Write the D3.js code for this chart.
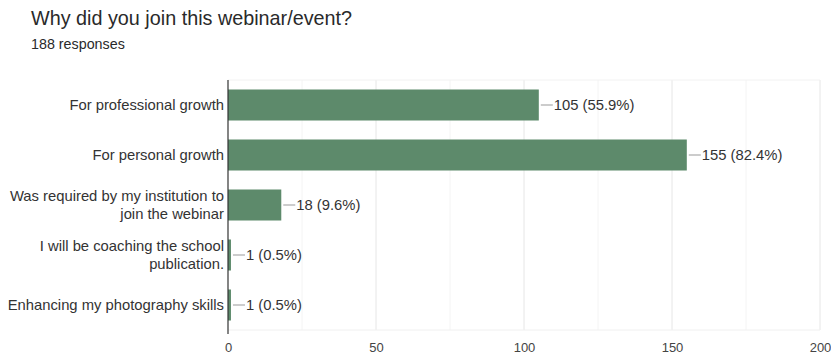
<!DOCTYPE html>
<html>
<head>
<meta charset="utf-8">
<script src="https://cdn.jsdelivr.net/npm/d3@7"></script>
<style>
  body { margin: 0; background: #fff; }
  svg text { font-family: "Liberation Sans", Arial, sans-serif; }
</style>
</head>
<body>
<svg width="831" height="358"></svg>
<script>
const TITLE = "Why did you join this webinar/event?";
const SUBTITLE = "188 responses";
const CATEGORIES = [
  ["For professional growth"],
  ["For personal growth"],
  ["Was required by my institution to", "join the webinar"],
  ["I will be coaching the school", "publication."],
  ["Enhancing my photography skills"]
];
const VALUES = [105, 155, 18, 1, 1];
const PERCENTS = ["55.9%", "82.4%", "9.6%", "0.5%", "0.5%"];
const X_TICKS = [0, 50, 100, 150, 200];
const X_MINOR = [25, 75, 125, 175];

const svg = d3.select("svg");
const margin = {left: 228, right: 11, top: 80, bottom: 28};
const W = 831, H = 358;
const FS = 14.8;

svg.append("text")
  .attr("x", 31).attr("y", 25)
  .attr("font-size", 19.8)
  .attr("fill", "#2a2a2a")
  .text(TITLE);

svg.append("text")
  .attr("x", 31).attr("y", 49)
  .attr("font-size", 14.3)
  .attr("fill", "#2a2a2a")
  .text(SUBTITLE);

const xScale = d3.scaleLinear().domain([0, 200]).range([margin.left, W - margin.right]);
const yScale = d3.scaleBand()
  .domain(CATEGORIES.map((d, i) => i))
  .range([margin.top, H - margin.bottom])
  .paddingInner(0.38).paddingOuter(0.19);

// minor gridlines
svg.append("g")
  .selectAll("line")
  .data(X_MINOR)
  .enter()
  .append("line")
  .attr("x1", d => xScale(d)).attr("x2", d => xScale(d))
  .attr("y1", margin.top).attr("y2", H - margin.bottom)
  .attr("stroke", "#f4f4f4");

// major gridlines
svg.append("g")
  .selectAll("line")
  .data(X_TICKS.slice(1))
  .enter()
  .append("line")
  .attr("x1", d => xScale(d)).attr("x2", d => xScale(d))
  .attr("y1", margin.top).attr("y2", H - margin.bottom)
  .attr("stroke", "#e6e6e6");

// frame top/bottom faint
svg.append("line")
  .attr("x1", margin.left).attr("x2", W - margin.right)
  .attr("y1", margin.top).attr("y2", margin.top)
  .attr("stroke", "#f2f2f2");
svg.append("line")
  .attr("x1", margin.left).attr("x2", W - margin.right)
  .attr("y1", H - margin.bottom).attr("y2", H - margin.bottom)
  .attr("stroke", "#f0f0f0");

// x axis labels
const xAxis = svg.append("g")
  .attr("transform", `translate(0,${H - margin.bottom})`)
  .call(d3.axisBottom(xScale).tickValues(X_TICKS).tickSize(0).tickPadding(13));
xAxis.select(".domain").remove();
xAxis.selectAll("text")
  .attr("font-size", 13)
  .attr("fill", "#444")
  .attr("font-family", "'Liberation Sans', Arial, sans-serif");

// bars
svg.append("g")
  .selectAll(".bar")
  .data(VALUES)
  .enter()
  .append("rect")
  .classed("bar", true)
  .attr("x", xScale(0))
  .attr("y", (d, i) => yScale(i))
  .attr("width", d => Math.max(xScale(d) - xScale(0), 0))
  .attr("height", yScale.bandwidth())
  .attr("fill", "#5d8a6b");

// y axis line
svg.append("line")
  .attr("x1", xScale(0)).attr("x2", xScale(0))
  .attr("y1", margin.top).attr("y2", H - margin.bottom + 4)
  .attr("stroke", "#333")
  .attr("stroke-width", 1.2);

// category labels
const yLabels = svg.append("g")
  .selectAll("text")
  .data(CATEGORIES)
  .enter()
  .append("text")
  .attr("text-anchor", "end")
  .attr("font-size", FS)
  .attr("fill", "#333")
  .attr("x", xScale(0) - 4)
  .attr("y", (d, i) => yScale(i) + yScale.bandwidth() / 2);

yLabels.each(function(lines) {
  const t = d3.select(this);
  const off = -(lines.length - 1) * 18 / 2;
  lines.forEach((ln, j) => {
    t.append("tspan")
      .attr("x", xScale(0) - 4)
      .attr("dy", j === 0 ? off + 5 : 18)
      .text(ln);
  });
});

// value labels with leader lines
const lbl = svg.append("g")
  .selectAll("g")
  .data(VALUES)
  .enter()
  .append("g");

lbl.append("line")
  .attr("x1", d => xScale(d) + 2)
  .attr("x2", d => xScale(d) + 14)
  .attr("y1", (d, i) => yScale(i) + yScale.bandwidth() / 2)
  .attr("y2", (d, i) => yScale(i) + yScale.bandwidth() / 2)
  .attr("stroke", "#999");

lbl.append("text")
  .attr("x", d => xScale(d) + 15)
  .attr("y", (d, i) => yScale(i) + yScale.bandwidth() / 2 + 5)
  .attr("font-size", FS)
  .attr("fill", "#333")
  .text((d, i) => `${d} (${PERCENTS[i]})`);
</script>
</body>
</html>
